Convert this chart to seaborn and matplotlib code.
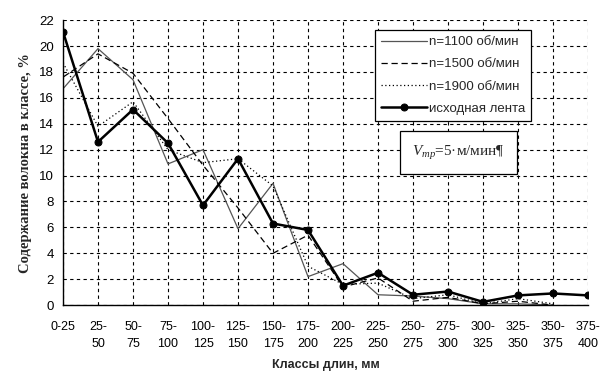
import numpy as np
import pandas as pd
import matplotlib
matplotlib.use("Agg")
import matplotlib.pyplot as plt
import seaborn as sns

categories = ["0-25", "25-\n50", "50-\n75", "75-\n100", "100-\n125", "125-\n150",
              "150-\n175", "175-\n200", "200-\n225", "225-\n250", "250-\n275",
              "275-\n300", "300-\n325", "325-\n350", "350-\n375", "375-\n400"]
n1100 = [16.7, 19.8, 17.4, 10.9, 12.0, 5.9, 9.4, 2.2, 3.2, 0.8, 0.7, 0.5, 0.1, 0.1, 0.0]
n1500 = [17.6, 19.4, 17.9, 14.4, 10.8, 7.5, 4.0, 5.4, 1.4, 2.1, 0.3, 0.6, 0.1, 0.3, 0.0]
n1900 = [18.7, 13.8, 15.7, 12.0, 11.0, 11.3, 9.2, 3.0, 1.6, 1.7, 0.5, 0.8, 0.1, 0.5, 0.1]
source = [21.1, 12.6, 15.1, 12.5, 7.7, 11.3, 6.3, 5.8, 1.5, 2.5, 0.8, 1.05, 0.25, 0.75, 0.9, 0.75]
labels = ["n=1100 об/мин", "n=1500 об/мин", "n=1900 об/мин", "исходная лента"]

sns.set_theme(style="white")
plt.rcParams["font.family"] = ["Liberation Sans", "DejaVu Sans"]
plt.rcParams["mathtext.fontset"] = "custom"
plt.rcParams["mathtext.it"] = "Liberation Serif:italic"
plt.rcParams["mathtext.rm"] = "Liberation Serif"

fig = plt.figure(figsize=(6.0, 3.73), dpi=100)
ax = fig.add_axes([0.105, 0.182, 0.875, 0.764])

sns.lineplot(x=np.arange(len(n1100)), y=n1100, ax=ax, color="#555555", lw=0.9,
             linestyle="-", label=labels[0])
sns.lineplot(x=np.arange(len(n1500)), y=n1500, ax=ax, color="black", lw=0.9,
             linestyle=(0, (5, 3)), label=labels[1])
sns.lineplot(x=np.arange(len(n1900)), y=n1900, ax=ax, color="black", lw=0.9,
             linestyle=(0, (1, 2)), label=labels[2])
sns.lineplot(x=np.arange(len(source)), y=source, ax=ax, color="black", lw=1.8,
             marker="o", markersize=5, markeredgecolor="black", label=labels[3])

ax.set_xlim(0, 15)
ax.set_ylim(0, 22)
ax.set_xticks(np.arange(16))
ax.set_xticklabels(categories, fontsize=9, linespacing=1.6)
ax.set_yticks(np.arange(0, 23, 2))
ax.tick_params(axis="y", labelsize=9.5, direction="inout", length=7, width=0.9, colors="black", pad=3)
ax.tick_params(axis="x", direction="inout", length=7, width=0.9, colors="black", pad=8)
ax.grid(True, color="black", linestyle=(0, (3, 3)), linewidth=0.8)
for s in ["top", "right"]:
    ax.spines[s].set_visible(False)
for s in ["left", "bottom"]:
    ax.spines[s].set_color("black")
    ax.spines[s].set_linewidth(1.0)

ax.set_ylabel("Содержание волокна в классе, %", fontsize=10.5, fontweight="bold",
              family=["Liberation Serif", "DejaVu Serif"], labelpad=5)
ax.set_xlabel("Классы длин, мм", fontsize=9, fontweight="bold", labelpad=6)

leg = ax.legend(loc="upper left", bbox_to_anchor=(0.595, 0.965), frameon=True,
                fancybox=False, edgecolor="black", fontsize=9.5, handlelength=3.5,
                handletextpad=0.1, borderpad=0.45, labelspacing=0.75, borderaxespad=0)
leg.get_frame().set_linewidth(0.9)
leg.get_frame().set_facecolor("white")
leg.get_frame().set_alpha(1.0)

ax.text(0.665, 0.535, "$V_{тр}$=5·м/мин¶", transform=ax.transAxes, fontsize=11,
        family=["Liberation Serif", "DejaVu Serif"], va="center", ha="left",
        bbox=dict(boxstyle="square,pad=0.8", facecolor="white", edgecolor="black", linewidth=0.9),
        zorder=5)

fig.savefig("out.png", dpi=100)
